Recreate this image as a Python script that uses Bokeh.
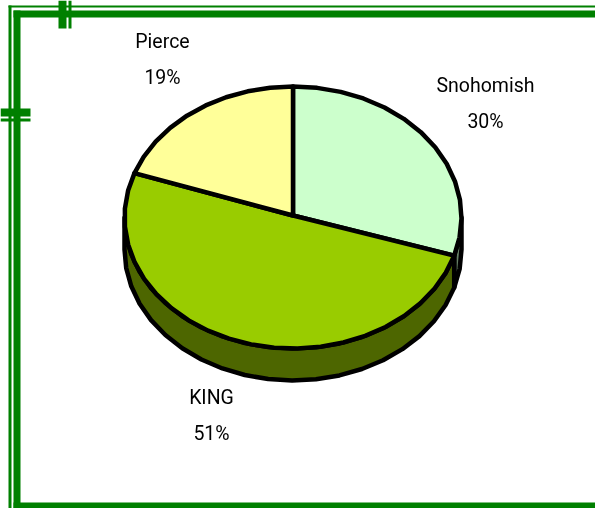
import numpy as np
from bokeh.plotting import figure
from bokeh.models import Range1d
from bokeh.core.properties import value
from bokeh.embed import file_html
from bokeh.resources import INLINE

# --- data ---
names = ["Snohomish", "KING", "Pierce"]
shares = [29.7, 50.8, 19.5]
share_labels = ["30%", "51%", "19%"]
top_colors = ["#CCFFCC", "#99CC00", "#FFFF99"]
side_colors = ["#668066", "#4D6600", "#808050"]

GREEN = "#008000"
W, H = 595, 508
CX, CY, RX, RY, DEPTH = 292.5, 217, 168.5, 131, 32
STEP = 8.0

p = figure(width=W, height=H, x_range=Range1d(0, W), y_range=Range1d(H, 0),
           output_backend="svg", toolbar_location=None, min_border=0,
           x_axis_location=None, y_axis_location=None,
           outline_line_color=None, background_fill_color="white",
           border_fill_color="white",
           styles={"position": "fixed", "left": "0px", "top": "0px"})
p.grid.visible = False

# --- frame bars ---
frame_l = [8, 8, 13, 13, 13, 58, 68, 0, 0]
frame_r = [11, 595, 20, 595, 595, 66, 71, 30, 30]
frame_t = [5, 5, 10, 10, 502, 0, 0, 108, 118]
frame_b = [508, 7, 508, 17, 508, 28, 28, 116, 121]
p.quad(left=frame_l, right=frame_r, top=frame_t, bottom=frame_b,
       fill_color=GREEN, line_color=None)


def arc(a0, a1):
    n = max(2, int(round(abs(a1 - a0) / STEP)) + 1)
    t = np.radians(np.linspace(a0, a1, n))
    return CX + RX * np.sin(t), CY - RY * np.cos(t)


# --- pie from shares ---
edges = np.concatenate([[0], np.cumsum(shares)]) / sum(shares) * 360.0

# side walls (only the part facing the viewer, 90..270 degrees)
for i in range(len(shares)):
    a0, a1 = max(edges[i], 90.0), min(edges[i + 1], 270.0)
    if a1 <= a0:
        continue
    x, y = arc(a0, a1)
    xs = np.concatenate([x, x[::-1]])
    ys = np.concatenate([y, y[::-1] + DEPTH])
    p.patch(xs, ys, fill_color=side_colors[i], line_color="black",
            line_width=4.5, line_join="round")

# top faces
for i in range(len(shares)):
    x, y = arc(edges[i], edges[i + 1])
    xs = np.concatenate([[CX], x])
    ys = np.concatenate([[CY - 2], y])
    p.patch(xs, ys, fill_color=top_colors[i], line_color="black",
            line_width=4.5, line_join="round")

# --- labels ---
label_x = [485, 211, 162]
label_y = [84.5, 396.5, 40.5]
LINE_GAP = 36
font = value("Roboto")
p.text(label_x, label_y, text=names, text_font=font, text_font_size="19.5px",
       text_align="center", text_baseline="middle", text_color="black")
p.text(label_x, [y + LINE_GAP for y in label_y], text=share_labels,
       text_font=font, text_font_size="19.5px",
       text_align="center", text_baseline="middle", text_color="black")

open("out.html", "w").write(file_html(p, INLINE))
